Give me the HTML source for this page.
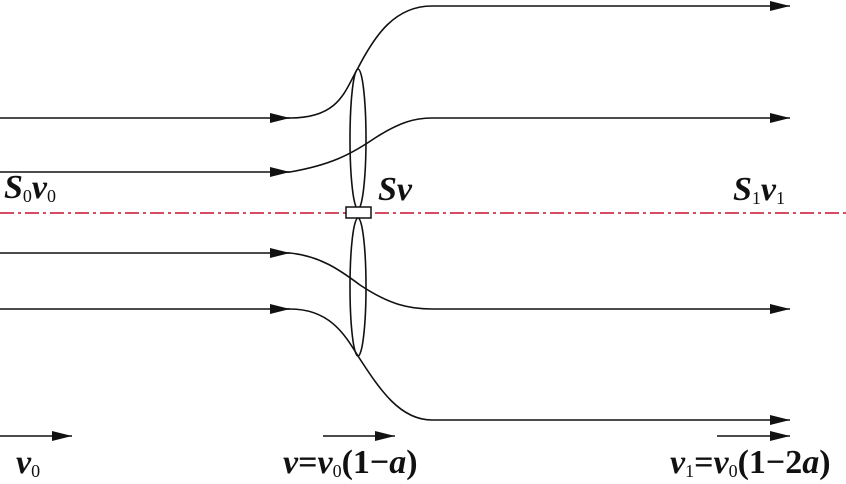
<!DOCTYPE html>
<html><head><style>body{margin:0;background:#fff}svg{display:block}
text{font-family:"Liberation Serif",serif;font-style:italic;font-weight:bold;font-size:34px;fill:#111}
.s{font-size:18px;font-style:normal;font-weight:normal}
.n{font-style:normal}</style></head><body>
<svg width="846" height="484" viewBox="0 0 846 484">
<defs><marker id="a" markerWidth="20" markerHeight="12" refX="20" refY="6" orient="auto" markerUnits="userSpaceOnUse"><path d="M0,1 L20,6 L0,11 Z" fill="#111"/></marker></defs>
<g stroke="#111" stroke-width="1.6" fill="none">
<path d="M0,118 H290"/><path d="M0,172 H290"/><path d="M0,253 H290"/><path d="M0,309 H290"/>
<path d="M272,118 H290" marker-end="url(#a)"/><path d="M272,172 H290" marker-end="url(#a)"/><path d="M272,253 H290" marker-end="url(#a)"/><path d="M272,309 H290" marker-end="url(#a)"/>
<path d="M290,118 C340,118 345,90 358,68 C375,35 395,6 432,6 H790" marker-end="url(#a)"/>
<path d="M290,172 C330,165 350,155 375,138 C400,122 415,118 432,118 H790" marker-end="url(#a)"/>
<path d="M290,253 C320,256 340,270 360,285 C390,305 410,309 432,309 H790" marker-end="url(#a)"/>
<path d="M290,309 C330,309 345,335 358,356 C380,390 400,420 432,420 H790" marker-end="url(#a)"/>
<ellipse cx="358" cy="139" rx="8" ry="70"/><ellipse cx="358" cy="287" rx="8" ry="69"/>
<path d="M0,436 H72" marker-end="url(#a)"/><path d="M323,436 H395" marker-end="url(#a)"/><path d="M717,436 H790" marker-end="url(#a)"/>
</g>
<path d="M0,213 H846" stroke="#c8102e" stroke-width="1.5" stroke-dasharray="14,4,3,4"/>
<rect x="346" y="207" width="25" height="11" fill="#fff" stroke="#111" stroke-width="1.5"/>
<text x="4" y="198">S<tspan class="s" dy="4">0</tspan><tspan dy="-4">v</tspan><tspan class="s" dy="4">0</tspan></text>
<text x="378" y="200">Sv</text>
<text x="733" y="200">S<tspan class="s" dy="4">1</tspan><tspan dy="-4">v</tspan><tspan class="s" dy="4">1</tspan></text>
<text x="16" y="473">v<tspan class="s" dy="4">0</tspan></text>
<text x="283" y="473">v<tspan class="n">=</tspan>v<tspan class="s" dy="4">0</tspan><tspan dy="-4" class="n">(1−</tspan>a<tspan class="n">)</tspan></text>
<text x="670" y="473">v<tspan class="s" dy="4">1</tspan><tspan dy="-4" class="n">=</tspan>v<tspan class="s" dy="4">0</tspan><tspan dy="-4" class="n">(1−2</tspan>a<tspan class="n">)</tspan></text>
</svg></body></html>
